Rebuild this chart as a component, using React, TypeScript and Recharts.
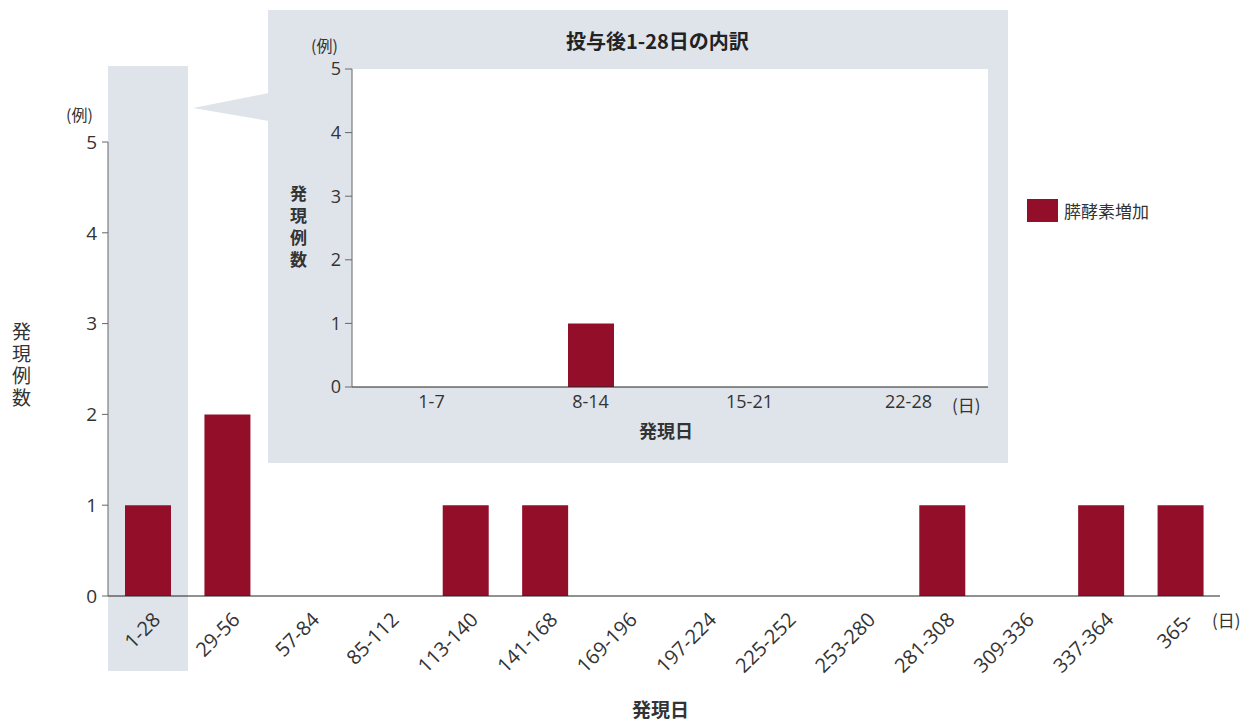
import { BarChart, Bar, XAxis, YAxis, CartesianGrid, Legend } from "recharts"

const mainCategories = ["1-28", "29-56", "57-84", "85-112", "113-140", "141-168", "169-196", "197-224", "225-252", "253-280", "281-308", "309-336", "337-364", "365-"]
const mainCounts = [1, 2, 0, 0, 1, 1, 0, 0, 0, 0, 1, 0, 1, 1]
const insetCategories = ["1-7", "8-14", "15-21", "22-28"]
const insetCounts = [0, 1, 0, 0]
const yTicks = [0, 1, 2, 3, 4, 5]
const seriesName = "膵酵素増加"

const mainData = mainCategories.map((name, i) => ({ name, count: mainCounts[i] }))
const insetData = insetCategories.map((name, i) => ({ name, count: insetCounts[i] }))

const FONT = "'Noto Sans CJK JP', 'Noto Sans', sans-serif"
const NUM_FONT = "'Open Sans', 'Noto Sans CJK JP', sans-serif"
const BAR = "#930f29"
const PANEL = "#dfe4eb"
const TEXT = "#333"

const RotatedTick = (props: any) => {
  const { x, y, payload } = props
  const tx = x + 14
  const ty = y + 23
  return (
    <text x={tx} y={ty} transform={`rotate(-45 ${tx} ${ty})`} textAnchor="end" fontSize={20} fill={TEXT} fontFamily={NUM_FONT}>
      {payload.value}
    </text>
  )
}

const LegendBox = (props: any) => {
  const item = props.payload?.[0]
  return (
    <div style={{ display: "flex", alignItems: "center", fontFamily: FONT, fontSize: 17, color: TEXT }}>
      <span style={{ width: 31, height: 23, background: BAR, display: "inline-block", marginRight: 6 }} />
      <span>{item ? item.value : seriesName}</span>
    </div>
  )
}

const abs = (left: number, top: number, extra: any = {}) => ({
  position: "absolute" as const,
  left,
  top,
  fontFamily: FONT,
  color: TEXT,
  whiteSpace: "nowrap" as const,
  lineHeight: 1,
  ...extra,
})

const vertical = { writingMode: "vertical-rl" as const, textOrientation: "upright" as const }

const numTick = { fontSize: 18, fill: TEXT, fontFamily: NUM_FONT }

export default function App() {
  return (
    <div style={{ position: "absolute", left: 0, top: 0, width: 1253, height: 726, background: "#fff", overflow: "hidden" }}>
      {/* highlight behind the 1-28 column */}
      <div style={{ position: "absolute", left: 108, top: 66, width: 80, height: 605, background: PANEL }} />

      <div style={{ position: "absolute", left: 0, top: 0 }}>
        <BarChart width={1253} height={726} data={mainData} margin={{ top: 142, right: 33, bottom: 50, left: 48 }} barSize={46}>
          <XAxis dataKey="name" interval={0} tickLine={false} tickSize={0} axisLine={{ stroke: "#222" }} height={80} tick={<RotatedTick />} />
          <YAxis domain={[0, 5]} ticks={yTicks} width={60} tickSize={6} tickMargin={5} axisLine={{ stroke: "#666" }} tickLine={{ stroke: "#666" }} tick={{ ...numTick, fontSize: 19 }} />
          <Legend layout="horizontal" verticalAlign="middle" align="center" content={<LegendBox />} wrapperStyle={{ left: 1027, top: 198, width: 200 }} />
          <Bar dataKey="count" name={seriesName} fill={BAR} isAnimationActive={false} />
        </BarChart>
      </div>

      <div style={abs(66, 106, { fontSize: 16 })}>(例)</div>
      <div style={abs(12, 322, { fontSize: 19, letterSpacing: 3, ...vertical })}>発現例数</div>
      <div style={abs(1212, 611, { fontSize: 17 })}>(日)</div>
      <div style={abs(632, 699, { fontSize: 19, fontWeight: 700 })}>発現日</div>

      {/* callout pointer */}
      <svg width={1253} height={726} style={{ position: "absolute", left: 0, top: 0 }}>
        <polygon points="269,93 269,121 193,108" fill={PANEL} />
      </svg>

      {/* inset panel */}
      <div style={{ position: "absolute", left: 268, top: 10, width: 740, height: 453, background: PANEL }}>
        <BarChart width={740} height={453} data={insetData} margin={{ top: 59, right: 20, bottom: 46, left: 44 }} barSize={46}>
          <CartesianGrid horizontal={false} vertical={false} fill="#fff" stroke="none" />
          <XAxis dataKey="name" interval={0} tickLine={false} tickSize={6} tickMargin={2} axisLine={{ stroke: "#222" }} height={30} tick={numTick} />
          <YAxis domain={[0, 5]} ticks={yTicks} width={40} tickSize={7} tickMargin={4} axisLine={{ stroke: "#666" }} tickLine={{ stroke: "#666" }} tick={numTick} />
          <Bar dataKey="count" name={seriesName} fill={BAR} isAnimationActive={false} />
        </BarChart>
        <div style={abs(298, 21, { fontSize: 20, fontWeight: 700, color: "#222" })}>投与後1-28日の内訳</div>
        <div style={abs(43, 27, { fontSize: 16 })}>(例)</div>
        <div style={abs(22, 175, { fontSize: 17, fontWeight: 700, letterSpacing: 5, ...vertical })}>発現例数</div>
        <div style={abs(684, 386, { fontSize: 17 })}>(日)</div>
        <div style={abs(371, 411, { fontSize: 18, fontWeight: 700 })}>発現日</div>
      </div>
    </div>
  )
}
